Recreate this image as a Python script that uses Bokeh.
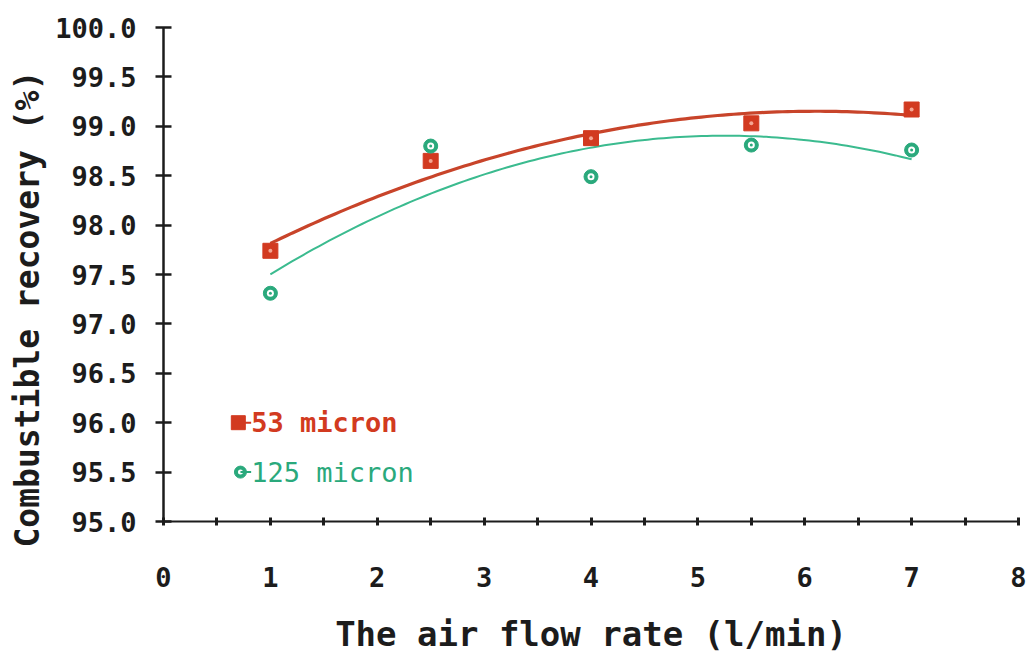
import numpy as np
from bokeh.plotting import figure
from bokeh.models import Range1d, FixedTicker, PrintfTickFormatter, Title
from bokeh.core.properties import value
from bokeh.embed import file_html
from bokeh.resources import INLINE

# ---- data ----
air_flow = [1.0, 2.5, 4.0, 5.5, 7.0]
rec_53 = [97.74, 98.65, 98.88, 99.03, 99.17]
rec_125 = [97.31, 98.80, 98.49, 98.81, 98.76]
series_labels = ["53 micron", "125 micron"]
y_ticks = [95.0, 95.5, 96.0, 96.5, 97.0, 97.5, 98.0, 98.5, 99.0, 99.5, 100.0]
x_ticks = [0, 1, 2, 3, 4, 5, 6, 7, 8]
x_minor = [0.5, 1.5, 2.5, 3.5, 4.5, 5.5, 6.5, 7.5]

RED = "#d23a20"
RED_LINE = "#c8442a"
GREEN = "#2aa97c"
GREEN_LINE = "#3bbb8f"
INK = "#1c1c1c"
FONT = "DejaVu Sans Mono"

p = figure(width=1035, height=664, output_backend="svg", toolbar_location=None,
           x_range=Range1d(0, 8), y_range=Range1d(95, 100),
           min_border_left=162, min_border_right=17, min_border_top=27, min_border_bottom=143)
p.outline_line_color = None
p.xgrid.visible = False
p.ygrid.visible = False
p.background_fill_color = "white"
p.border_fill_color = "white"

# axes
xa = p.xaxis[0]
xa.ticker = FixedTicker(ticks=x_ticks, minor_ticks=x_minor)
xa.axis_line_color = INK
xa.axis_line_width = 2
xa.major_tick_line_color = INK
xa.major_tick_line_width = 3
xa.major_tick_in = 4
xa.major_tick_out = 4
xa.minor_tick_line_color = INK
xa.minor_tick_line_width = 3
xa.minor_tick_in = 4
xa.minor_tick_out = 4
xa.major_label_text_font = FONT
xa.major_label_text_font_style = "bold"
xa.major_label_text_font_size = "27px"
xa.major_label_text_color = INK
xa.major_label_standoff = 41
xa.axis_label = "The air flow rate (l/min)"
xa.axis_label_text_font = FONT
xa.axis_label_text_font_style = "bold"
xa.axis_label_text_font_size = "34px"
xa.axis_label_text_color = INK
xa.axis_label_standoff = 24

ya = p.yaxis[0]
ya.ticker = FixedTicker(ticks=y_ticks, minor_ticks=[])
ya.formatter = PrintfTickFormatter(format="%.1f")
ya.axis_line_color = INK
ya.axis_line_width = 2.5
ya.major_tick_line_color = INK
ya.major_tick_line_width = 2.5
ya.major_tick_in = 8
ya.major_tick_out = 8
ya.minor_tick_line_color = None
ya.major_label_text_font = FONT
ya.major_label_text_font_style = "bold"
ya.major_label_text_font_size = "27px"
ya.major_label_text_color = INK
ya.major_label_standoff = 19

# y-axis title, placed in the left panel and shifted down like the reference
p.add_layout(Title(text="Combustible recovery (%)", align="left", offset=-26,
                   text_font=FONT, text_font_style="bold", text_font_size="33px",
                   text_color=INK, standoff=11), "left")

# fitted quadratic trend lines (least squares on the read values)
xs = np.linspace(min(air_flow), max(air_flow), 120)
fit53 = np.polyval(np.polyfit(air_flow, rec_53, 2), xs)
fit125 = np.polyval(np.polyfit(air_flow, rec_125, 2), xs)
p.line(xs, fit53, line_color=RED_LINE, line_width=3.2)
p.line(xs, fit125, line_color=GREEN_LINE, line_width=2)

# markers
p.scatter(air_flow, rec_53, marker="square", size=15, fill_color=RED, line_color=RED)
p.scatter(air_flow, rec_53, marker="circle", size=4, fill_color="#f4a592", line_color=None)
p.scatter(air_flow, rec_125, marker="circle", size=14, fill_color=GREEN, line_color=GREEN)
p.scatter(air_flow, rec_125, marker="circle", size=7, fill_color="white", line_color=None)
p.scatter(air_flow, rec_125, marker="circle", size=3, fill_color=GREEN, line_color=None)

# in-plot legend
p.scatter([0.7], [96.0], marker="square", size=14, fill_color=RED, line_color=RED)
p.segment([0.7], [96.0], [0.82], [96.0], line_color=RED, line_width=2)
p.text([0.82], [96.0], text=[series_labels[0]], text_color=RED, text_font=value(FONT),
       text_font_style="bold", text_font_size="27px", text_baseline="middle", text_align="left")
p.scatter([0.72], [95.5], marker="circle", size=12, fill_color=GREEN, line_color=GREEN)
p.scatter([0.72], [95.5], marker="circle", size=5, fill_color="white", line_color=None)
p.segment([0.72], [95.5], [0.82], [95.5], line_color=GREEN, line_width=2)
p.text([0.82], [95.5], text=[series_labels[1]], text_color=GREEN, text_font=value(FONT),
       text_font_size="27px", text_baseline="middle", text_align="left")

open("out.html", "w").write(file_html(p, INLINE))
